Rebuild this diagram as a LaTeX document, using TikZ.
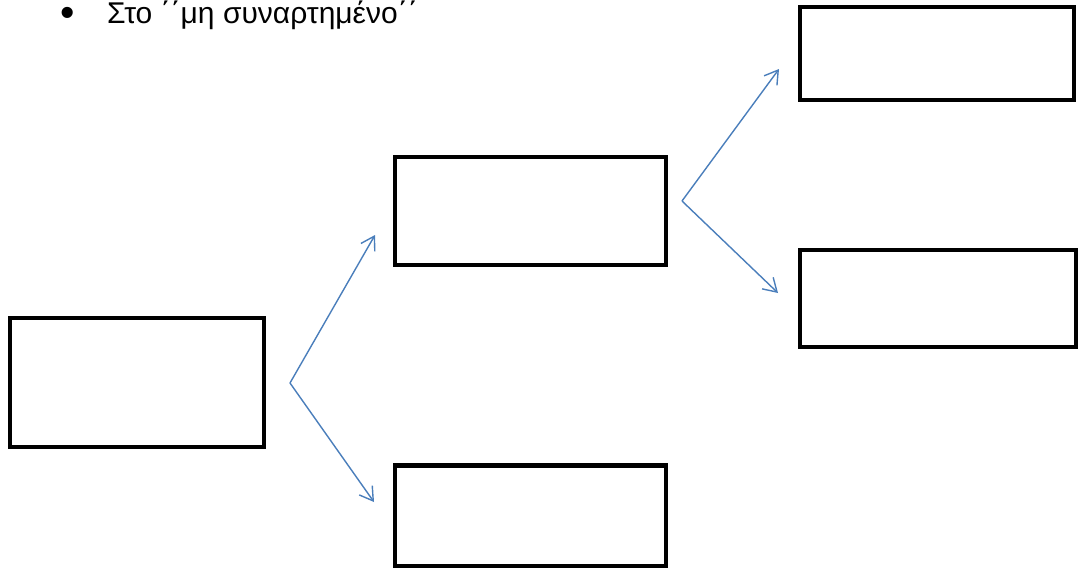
\documentclass[tikz,border=0pt]{standalone}
\usepackage{fontspec}
\setmainfont{Liberation Sans}
\usetikzlibrary{arrows.meta}
\definecolor{linkblue}{HTML}{4A7EBB}
\begin{document}
\begin{tikzpicture}[x=1pt,y=-1pt,
  box/.style={draw=black,line width=4.8pt,inner sep=0pt,fill=white},
  heading/.style={inner sep=0pt,font=\fontsize{30}{36}\selectfont},
  link/.style={draw=linkblue,line width=1.4pt,-{Straight Barb[length=13pt,width=16pt,line width=1.4pt]}}]
\useasboundingbox (0,0) rectangle (1080,568);
% heading line
\node[inner sep=0pt,font=\fontsize{41}{44}\selectfont,anchor=base] (bullet) at (67.5,26) {•};
\node[heading,anchor=base west] (title) at (107,23) {Στο ΄΄μη συναρτημένο΄΄};
% boxes
\node[box,minimum width=254pt,minimum height=129pt] (a) at (137,382.5) {};
\node[box,minimum width=271pt,minimum height=108pt] (b) at (530.5,211) {};
\node[box,minimum width=271pt,minimum height=101pt] (c) at (530.5,516) {};
\node[box,minimum width=274pt,minimum height=93pt] (d) at (937,53.5) {};
\node[box,minimum width=276pt,minimum height=97pt] (e) at (938,298.5) {};
% fork points and arrow ends
\coordinate (fa) at (290,383);
\coordinate (fb) at (682,201);
\coordinate (ab) at (375,235);
\coordinate (ac) at (374,502);
\coordinate (bd) at (779,69);
\coordinate (be) at (778,293);
\draw[link] (fa) -- (ab);
\draw[link] (fa) -- (ac);
\draw[link] (fb) -- (bd);
\draw[link] (fb) -- (be);
\end{tikzpicture}
\end{document}
